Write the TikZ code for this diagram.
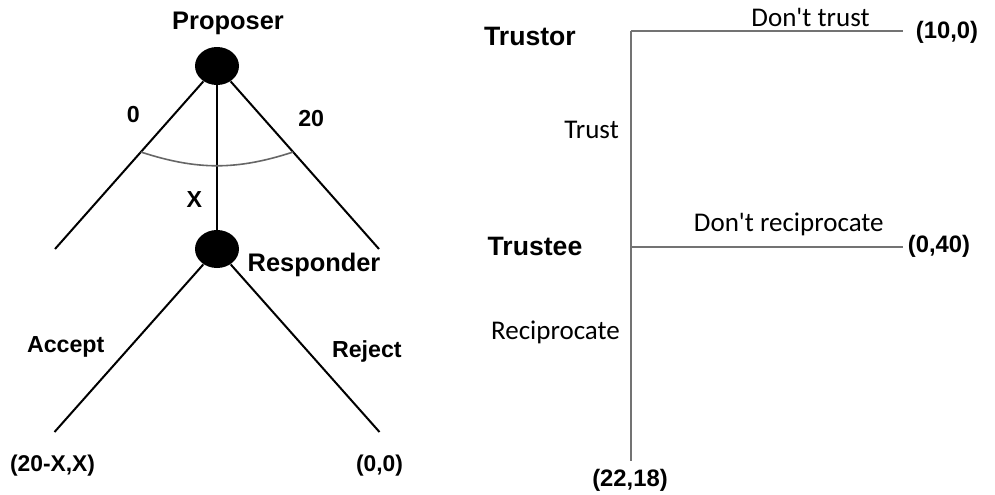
\documentclass[tikz,border=0pt]{standalone}
\usepackage{fontspec}
\setmainfont{Liberation Sans}
\newfontfamily\calibfont{Carlito}
\usetikzlibrary{shapes.geometric,calc,positioning}

\tikzset{
  decision/.style={ellipse, fill=black, minimum width=22pt, minimum height=19pt, inner sep=0pt},
  player/.style={font=\bfseries\fontsize{12.7}{15}\selectfont, inner sep=2pt},
  move/.style={font=\bfseries\fontsize{11.6}{14}\selectfont, inner sep=2pt},
  payoff/.style={font=\bfseries\fontsize{11.4}{14}\selectfont, inner sep=2pt},
  action/.style={font=\calibfont\fontsize{13.5}{16}\selectfont, inner sep=2pt},
}

\begin{document}
\begin{tikzpicture}[x=0.5pt, y=-0.5pt]
\useasboundingbox (0,0) rectangle (995,494);

% ultimatum game
\begin{scope}[level distance=91.5pt,
  level 1/.style={sibling distance=81pt},
  level 2/.style={sibling distance=162.5pt},
  edge from parent/.style={draw, line width=1pt}]
\node [decision] (prop) at (217,66) {}
  child {
    coordinate (lo)
    edge from parent node[move, pos=.2, left=14.5pt] {0}
  }
  child {
    node [decision] (resp) {}
    child {
      coordinate (acc)
      edge from parent node[move, pos=.49, left=10.5pt] {Accept}
    }
    child {
      coordinate (rej)
      edge from parent node[move, pos=.52, right=9.5pt] {Reject}
    }
    edge from parent node[move, pos=.79, left=5pt] {X}
  }
  child {
    coordinate (hi)
    edge from parent node[move, pos=.22, right=15pt] {20}
  };
\end{scope}
\draw [draw=black!60, line width=0.8pt] ($(prop)!.47!(lo)$) to[bend right=18] ($(prop)!.47!(hi)$);
\node [player] (proplab) at (228,23) {Proposer};
\node [player] (resplab) at (314,265) {Responder};
\node [payoff] (accpay) at ($(acc)+(-2,34)$) {(20-X,X)};
\node [payoff] (rejpay) at ($(rej)+(0,34)$) {(0,0)};

% trust game
\begin{scope}[sibling distance=0pt,
  edge from parent/.style={draw=black!55, line width=1.2pt}]
\node [coordinate] (tor) at (631,31) {}
  child [grow=east, level distance=136pt] {
    coordinate (dtr)
    edge from parent node[action, pos=.66, above=-0.5pt] {Don't trust}
  }
  child [grow=south, level distance=108pt] {
    coordinate (tee)
    child [grow=east, level distance=136pt] {
      coordinate (dre)
      edge from parent node[action, pos=.58, above=3pt] {Don't reciprocate}
    }
    child [grow=south, level distance=107pt] {
      coordinate (rec)
      edge from parent node[action, pos=.4, left=3pt] {Reciprocate}
    }
    edge from parent node[action, pos=.46, left=3.5pt] {Trust}
  };
\end{scope}
\node [player, font=\bfseries\fontsize{13.3}{16}\selectfont] (torlab) at (530,36) {Trustor};
\node [player, font=\bfseries\fontsize{13.3}{16}\selectfont] (teelab) at (535,246) {Trustee};
\node [payoff, font=\bfseries\fontsize{11.9}{14}\selectfont] (dtrpay) at ($(dtr)+(44,1)$) {(10,0)};
\node [payoff, font=\bfseries\fontsize{11.9}{14}\selectfont] (drepay) at ($(dre)+(36,-1)$) {(0,40)};
\node [payoff, font=\bfseries\fontsize{11.9}{14}\selectfont] (recpay) at ($(rec)+(-1,19)$) {(22,18)};
\end{tikzpicture}
\end{document}
